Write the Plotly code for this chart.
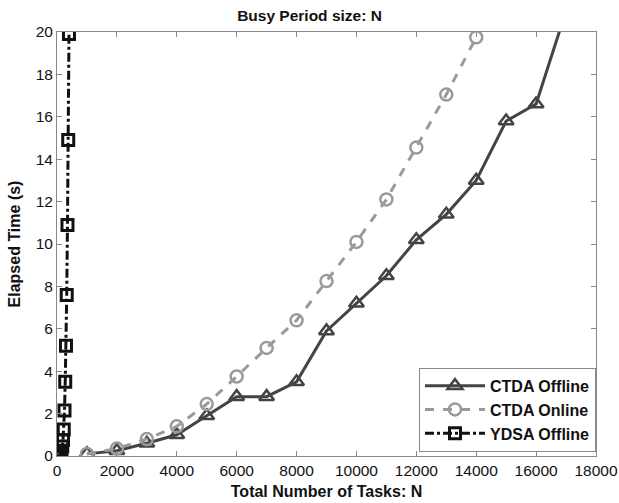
import plotly.graph_objects as go

ctda_off_x = [1000, 2000, 3000, 4000, 5000, 6000, 7000, 8000, 9000, 10000, 11000, 12000, 13000, 14000, 15000, 16000, 17000]
ctda_off_y = [0.1, 0.25, 0.6, 1.0, 1.9, 2.8, 2.8, 3.5, 5.9, 7.2, 8.5, 10.2, 11.4, 13.0, 15.8, 16.6, 21.0]

ctda_on_x = [1000, 2000, 3000, 4000, 5000, 6000, 7000, 8000, 9000, 10000, 11000, 12000, 13000, 14000]
ctda_on_y = [0.1, 0.35, 0.8, 1.4, 2.45, 3.75, 5.1, 6.4, 8.25, 10.1, 12.1, 14.55, 17.05, 19.75]

ydsa_x = [25, 50, 75, 100, 125, 150, 175, 200, 225, 250, 275, 300, 325, 350, 375, 400]
ydsa_y = [0.0, 0.01, 0.03, 0.06, 0.12, 0.25, 0.45, 0.75, 1.25, 2.15, 3.5, 5.2, 7.6, 10.9, 14.9, 19.9]

x_ticks = list(range(0, 18001, 2000))
y_ticks = list(range(0, 21, 2))

FONT = "Liberation Sans, Arial"

fig = go.Figure()
fig.add_trace(go.Scatter(
    x=ctda_off_x, y=ctda_off_y, name="<b>CTDA Offline</b>", mode="lines+markers",
    line=dict(color="#444444", width=3),
    marker=dict(symbol="triangle-up-open", size=13, color="#444444", line=dict(width=2.5)),
))
fig.add_trace(go.Scatter(
    x=ctda_on_x, y=ctda_on_y, name="<b>CTDA Online</b>", mode="lines+markers",
    line=dict(color="#9a9a9a", width=3, dash="dash"),
    marker=dict(symbol="circle-open", size=12, color="#9a9a9a", line=dict(width=2.5)),
))
fig.add_trace(go.Scatter(
    x=ydsa_x, y=ydsa_y, name="<b>YDSA Offline</b>", mode="lines+markers",
    line=dict(color="#111111", width=3, dash="dashdot"),
    marker=dict(symbol="square-open", size=11, color="#111111", line=dict(width=3)),
))

axis_common = dict(
    showgrid=False, zeroline=False, ticks="inside", ticklen=5, tickcolor="#888888",
    showline=True, linecolor="#888888", linewidth=1, mirror="ticks", automargin=False,
    tickfont=dict(family=FONT, size=15.5, color="#111111"),
)

fig.update_layout(
    width=619, height=503,
    margin=dict(l=57, r=23, t=32, b=47),
    paper_bgcolor="white", plot_bgcolor="white",
    title=dict(text="<b>Busy Period size: N</b>", x=0.5, xanchor="center", y=0.97, yanchor="middle",
               font=dict(family=FONT, size=15.5, color="#111111")),
    xaxis=dict(range=[0, 18000], tickvals=x_ticks, ticktext=[str(v) for v in x_ticks],
               title=dict(text="<b>Total Number of Tasks: N</b>", standoff=8,
                          font=dict(family=FONT, size=16, color="#111111")),
               **axis_common),
    yaxis=dict(range=[0, 20], tickvals=y_ticks, ticktext=[str(v) for v in y_ticks],
               title=dict(text="<b>Elapsed Time (s)</b>", standoff=11,
                          font=dict(family=FONT, size=16, color="#111111")),
               **axis_common),
    legend=dict(x=1, y=0.01, xanchor="right", yanchor="bottom",
                bordercolor="#888888", borderwidth=1, bgcolor="white",
                itemwidth=60, tracegroupgap=0,
                font=dict(family=FONT, size=16, color="#111111")),
    showlegend=True,
)

fig.write_html(
    "out.html",
    config={"displayModeBar": False},
    post_script="document.body.style.margin='0';document.body.style.overflow='hidden';",
)
